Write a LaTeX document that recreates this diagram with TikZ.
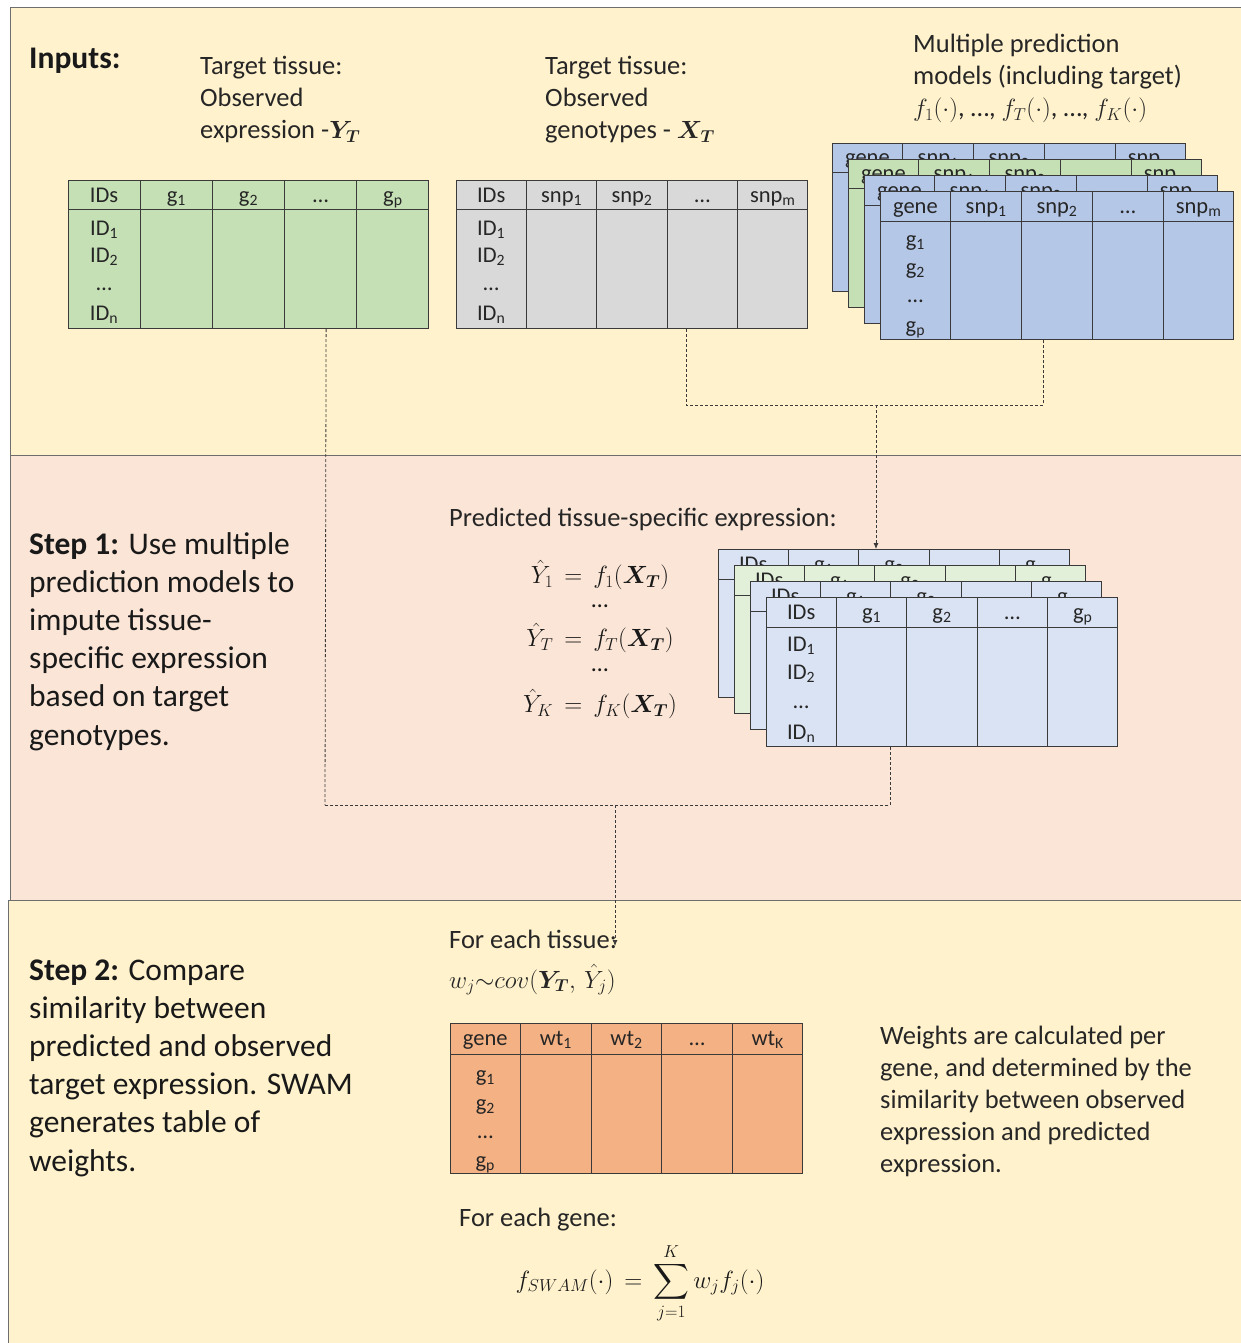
\documentclass[tikz,border=0pt]{standalone}
\usepackage{amsmath,bm}
\usepackage{fontspec}
\setmainfont{Carlito}
\usetikzlibrary{calc,arrows.meta}
\definecolor{bandY}{HTML}{FFF2CC}
\definecolor{bandP}{HTML}{FBE5D6}
\definecolor{bandLine}{HTML}{6E6E6E}
\definecolor{tgreen}{HTML}{C5E0B4}
\definecolor{tgray}{HTML}{D9D9D9}
\definecolor{tblue}{HTML}{B4C7E7}
\definecolor{lblue}{HTML}{DAE3F3}
\definecolor{lgreen}{HTML}{E2F0D9}
\definecolor{torange}{HTML}{F4B183}
\definecolor{tlinec}{HTML}{3A3A3A}
\newcommand{\fsz}[2]{\fontsize{#1}{#2}\selectfont}
\newcommand{\mktable}[9]{%
  \node[tbl, fill=#7, minimum width=#4pt, minimum height=#5pt, anchor=north west] (#1) at (#2,#3) {};
  \draw[tline] ([yshift=-#6pt]#1.north west) -- ([yshift=-#6pt]#1.north east);
  \foreach \k in {1,2,3,4}{\draw[tline] ($(#1.north west)!\k/5!(#1.north east)$) -- ($(#1.south west)!\k/5!(#1.south east)$);}
  \foreach \lab [count=\k] in {#8}{\node[cell, anchor=base] at ($(#1.north west)!{(\k-0.5)/5}!(#1.north east)+(0,22)$) {\lab};}
  \foreach \lab/\dy in {#9}{\node[cell, anchor=base] at ($(#1.north west)!0.1!(#1.north east)+(0,\dy)$) {\lab};}
}
\begin{document}
\begin{tikzpicture}[x=1pt,y=-1pt,
  tbl/.style={draw=tlinec, line width=1pt, inner sep=0pt, rectangle},
  tline/.style={draw=tlinec, line width=1pt},
  cell/.style={inner sep=0pt, font=\fsz{22.5}{26}, text=black!85},
  band/.style={draw=bandLine, line width=1pt},
  txt/.style={inner sep=0pt, align=left, anchor=base west, font=\fsz{26.5}{32}, text=black!85},
  big/.style={inner sep=0pt, align=left, anchor=base west, font=\fsz{31.5}{38.2}, text=black!90},
  eq/.style={inner sep=0pt, font=\fsz{24}{30}, text=black!90},
  conn/.style={draw=tlinec, line width=0.8pt, dash pattern=on 3pt off 2pt},
  tip/.style={-{Latex[length=6pt,width=5pt]}}
]
\useasboundingbox (0,0) rectangle (1241,1343);
\fill[white] (0,0) rectangle (1241,1343);
% bands
\path[band, fill=bandY] (10,8) rectangle (1250,455);
\path[band, fill=bandP] (10,455) rectangle (1250,900);
\path[band, fill=bandY] (8,900) rectangle (1250,1350);

% ---------- Inputs ----------
\node[inner sep=0pt, anchor=base west, font=\fsz{31.5}{36}\bfseries, text=black!90] (inp) at (29,69) {Inputs:};
\node[txt] (txA) at (200,139) {Target tissue:\\Observed\\expression -$\bm{Y_T}$};
\node[txt] (txB) at (545,139) {Target tissue:\\Observed\\genotypes - $\bm{X_T}$};
\node[txt] (txC) at (913,117) {Multiple prediction\\models (including target)\\$f_1(\cdot)$, \ldots, $f_T(\cdot)$, \ldots, $f_K(\cdot)$};

\mktable{tY}{68}{180}{360}{148}{29}{tgreen}{IDs,g\textsubscript{1},g\textsubscript{2},\ldots,g\textsubscript{p}}{ID\textsubscript{1}/55,ID\textsubscript{2}/82,\ldots/110,ID\textsubscript{n}/140}
\mktable{tX}{456}{180}{351}{148}{29}{tgray}{IDs,snp\textsubscript{1},snp\textsubscript{2},\ldots,snp\textsubscript{m}}{ID\textsubscript{1}/55,ID\textsubscript{2}/82,\ldots/110,ID\textsubscript{n}/140}

\mktable{fA}{832}{143}{353}{148}{30}{tblue}{gene,snp\textsubscript{1},snp\textsubscript{2},\ldots,snp\textsubscript{m}}{g\textsubscript{1}/55,g\textsubscript{2}/83,\ldots/111,g\textsubscript{p}/141}
\mktable{fB}{848}{159}{353}{148}{30}{tgreen}{gene,snp\textsubscript{1},snp\textsubscript{2},\ldots,snp\textsubscript{m}}{g\textsubscript{1}/55,g\textsubscript{2}/83,\ldots/111,g\textsubscript{p}/141}
\mktable{fC}{864}{175}{353}{148}{30}{tblue}{gene,snp\textsubscript{1},snp\textsubscript{2},\ldots,snp\textsubscript{m}}{g\textsubscript{1}/55,g\textsubscript{2}/83,\ldots/111,g\textsubscript{p}/141}
\mktable{fD}{880}{191}{353}{148}{30}{tblue}{gene,snp\textsubscript{1},snp\textsubscript{2},\ldots,snp\textsubscript{m}}{g\textsubscript{1}/55,g\textsubscript{2}/83,\ldots/111,g\textsubscript{p}/141}

% ---------- Step 1 ----------
\node[big] (s1) at (29,745) {\textbf{Step 1:} Use multiple\\prediction models to\\impute tissue-\\specific expression\\based on target\\genotypes.};
\node[txt] (pred) at (449,526) {Predicted tissue-specific expression:};
\node[eq] (e1) at (600,575) {$\hat{Y}_1\,=\,f_1(\bm{X_T})$};
\node[eq] (d1) at (600,606) {\ldots};
\node[eq] (e2) at (600,638) {$\hat{Y}_T\,=\,f_T(\bm{X_T})$};
\node[eq] (d2) at (600,670) {\ldots};
\node[eq] (e3) at (600,704) {$\hat{Y}_K\,=\,f_K(\bm{X_T})$};

\mktable{mA}{718}{549}{351}{148}{30}{lblue}{IDs,g\textsubscript{1},g\textsubscript{2},\ldots,g\textsubscript{p}}{ID\textsubscript{1}/54,ID\textsubscript{2}/82,\ldots/111,ID\textsubscript{n}/142}
\mktable{mB}{734}{565}{351}{148}{30}{lgreen}{IDs,g\textsubscript{1},g\textsubscript{2},\ldots,g\textsubscript{p}}{ID\textsubscript{1}/54,ID\textsubscript{2}/82,\ldots/111,ID\textsubscript{n}/142}
\mktable{mC}{750}{581}{351}{148}{30}{lblue}{IDs,g\textsubscript{1},g\textsubscript{2},\ldots,g\textsubscript{p}}{ID\textsubscript{1}/54,ID\textsubscript{2}/82,\ldots/111,ID\textsubscript{n}/142}
\mktable{mD}{766}{597}{351}{149}{30}{lblue}{IDs,g\textsubscript{1},g\textsubscript{2},\ldots,g\textsubscript{p}}{ID\textsubscript{1}/54,ID\textsubscript{2}/82,\ldots/111,ID\textsubscript{n}/142}

% ---------- Step 2 ----------
\node[big] (s2) at (29,1171) {\textbf{Step 2:} Compare\\similarity between\\predicted and observed\\target expression. SWAM\\generates table of\\weights.};
\node[txt] (fet) at (449,948) {For each tissue:};
\node[txt] (wj) at (449,988) {$w_j{\sim}cov(\bm{Y_T},\,\hat{Y}_j)$};
\mktable{tW}{450}{1023}{352}{150}{31}{torange}{gene,wt\textsubscript{1},wt\textsubscript{2},\ldots,wt\textsubscript{K}}{g\textsubscript{1}/58,g\textsubscript{2}/87,\ldots/115,g\textsubscript{p}/144}
\node[txt] (wtxt) at (880,1172) {Weights are calculated per\\gene, and determined by the\\similarity between observed\\expression and predicted\\expression.};
\node[txt] (feg) at (459,1226) {For each gene:};
\node[eq] (sum) at (640,1283) {$\displaystyle f_{SWAM}(\cdot)\,=\,\sum_{j=1}^{K} w_j f_j(\cdot)$};

% ---------- connectors ----------
\coordinate (j1) at (325,805);
\coordinate (j2) at (876,405);
\coordinate (j3) at (615,805);
\coordinate (tend) at (615,946);
\draw[conn] ($(tY.south west)!0.715!(tY.south east)$) -- (j1);
\draw[conn] ($(tX.south west)!0.654!(tX.south east)$) |- (j2) -| ($(fD.south west)!0.462!(fD.south east)$);
\draw[conn, tip] (j2) -- (j2 |- mA.north);
\draw[conn] ($(mD.south west)!0.353!(mD.south east)$) |- (j1);
\draw[conn, tip] (j3) -- (tend);
\end{tikzpicture}
\end{document}
